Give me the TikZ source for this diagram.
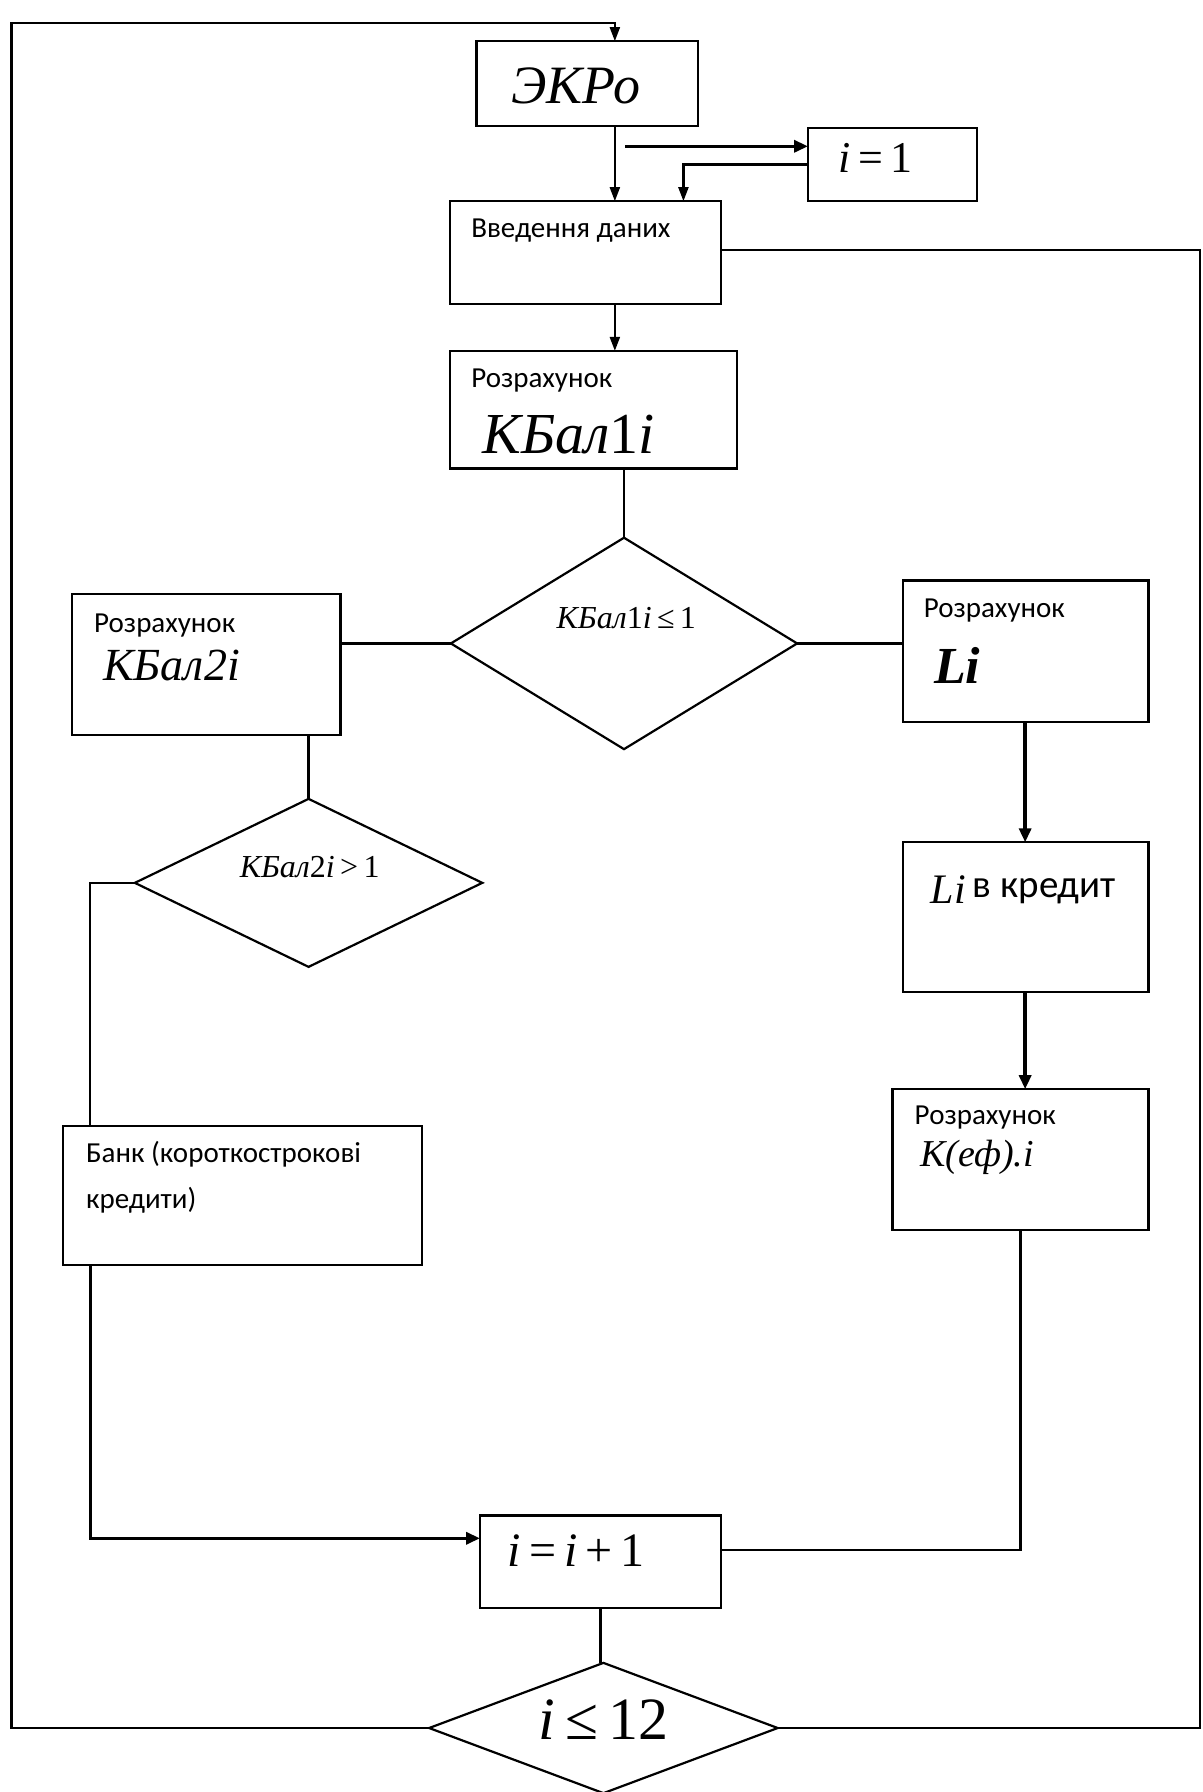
\documentclass[tikz,border=0pt]{standalone}
\usepackage{fontspec}
\setmainfont{Liberation Serif}
\newfontfamily\carl{Carlito}
\usetikzlibrary{shapes.geometric,arrows.meta}
\def\s{0.5713pt}
\begin{document}
\begin{tikzpicture}[x=0.5713pt,y=-0.5713pt,
  box/.style={draw, line width=1.1pt, inner sep=0pt, outer sep=0pt},
  dia/.style={diamond, draw, line width=1.1pt, inner sep=0pt, outer sep=0pt},
  ln/.style={line width=1.1pt},
  arr/.style={line width=1.1pt, -{Triangle[length=7pt,width=5pt]}},
  arrb/.style={line width=1.7pt, -{Triangle[length=7pt,width=6pt]}},
  lbl/.style={inner sep=0pt, anchor=west, font=\carl\fontsize{14.5}{23}\selectfont},
  mth/.style={inner sep=0pt, anchor=west},
]
\useasboundingbox (0,0) rectangle (1052,1568);

% boxes
\node[box, minimum width={194*\s}, minimum height={74*\s}] (ekro) at (514,73) {};
\node[box, minimum width={148*\s}, minimum height={64*\s}] (i1) at (781,144) {};
\node[box, minimum width={237*\s}, minimum height={90*\s}] (vved) at (512.5,221) {};
\node[box, minimum width={251*\s}, minimum height={103*\s}] (kb1) at (519.5,358.5) {};
\node[dia, minimum width={303*\s}, minimum height={185*\s}] (d1) at (546,563) {};
\node[box, minimum width={235*\s}, minimum height={123*\s}] (kb2) at (180.5,581.5) {};
\node[box, minimum width={215*\s}, minimum height={124*\s}] (li) at (897.5,570) {};
\node[dia, minimum width={304*\s}, minimum height={147*\s}] (d2) at (270,772.5) {};
\node[box, minimum width={215*\s}, minimum height={131*\s}] (lcred) at (897.5,802.5) {};
\node[box, minimum width={224*\s}, minimum height={123*\s}] (kef) at (893,1014.5) {};
\node[box, minimum width={314*\s}, minimum height={122*\s}] (bank) at (212,1046) {};
\node[box, minimum width={211*\s}, minimum height={81*\s}] (ii) at (525.5,1366.5) {};
\node[dia, minimum width={305*\s}, minimum height={114*\s}] (d3) at (528,1512) {};

% texts
\node[font=\itshape\fontsize{27}{30}\selectfont, inner sep=0pt] (tekro) at (504,75) {ЭКРо};
\node[font=\fontsize{22}{25}\selectfont, inner sep=0pt] (ti1) at (766,138) {\textit{i}\thinspace=\thinspace1};
\node[lbl] (tvved) at (412,202) {Введення даних};
\node[lbl] (tkb1a) at (412,333) {Розрахунок};
\node[mth, font=\fontsize{29}{32}\selectfont] (tkb1b) at (422,380) {\textit{КБал}1\textit{i}};
\node[font=\fontsize{16}{19}\selectfont, inner sep=0pt] (td1) at (548,541) {\textit{КБал}1\textit{i}\thinspace≤\thinspace1};
\node[lbl] (tkb2a) at (82,547) {Розрахунок};
\node[mth, font=\itshape\fontsize{23}{26}\selectfont] (tkb2b) at (90,582) {КБал2i};
\node[font=\fontsize{16}{19}\selectfont, inner sep=0pt] (td2) at (271,759) {\textit{КБал}2\textit{i}\thinspace>\thinspace1};
\node[lbl] (tlia) at (808,534) {Розрахунок};
\node[mth, font=\bfseries\itshape\fontsize{26}{29}\selectfont] (tlib) at (817,582) {Li};
\node[mth, font=\itshape\fontsize{21}{24}\selectfont] (tlc1) at (814,778) {Li};
\node[mth, font=\carl\fontsize{19.5}{23}\selectfont] (tlc2) at (851,780) {в кредит};
\node[lbl] (tkefa) at (800,978) {Розрахунок};
\node[mth, font=\itshape\fontsize{19}{22}\selectfont] (tkefb) at (805,1013) {К(еф).і};
\node[lbl, anchor=north west, align=left] (tbank) at (75,998) {Банк (короткострокові\\кредити)};
\node[mth, font=\fontsize{24}{27}\selectfont] (tii) at (444,1357) {\textit{i}\thinspace=\thinspace\textit{i}\thinspace+\thinspace1};
\node[font=\fontsize{30}{33}\selectfont, inner sep=0pt] (td3) at (528,1505) {\textit{i}\thinspace≤\thinspace12};

% helper coordinates
\coordinate (xA) at (538,0);
\coordinate (xB) at (598,0);
\coordinate (xL) at (10,0);
\coordinate (xR) at (1050,0);
\coordinate (xC) at (79,0);
\coordinate (xD) at (897,0);
\coordinate (xE) at (893,0);
\coordinate (yTop) at (0,20);
\coordinate (y128) at (0,128);
\coordinate (y219) at (0,219);
\coordinate (y1346) at (0,1346);
\coordinate (y1356) at (0,1356);
\coordinate (s1) at (547,128);

% connectors
\draw[arr] (d3.west) -| (xL |- yTop) -- (xA |- yTop) -- (xA |- ekro.north);
\draw[arr] (xA |- ekro.south) -- (xA |- vved.north);
\draw[arrb] (s1) -- (i1.west |- y128);
\draw[arr] (i1.west) -| (xB |- vved.north);
\draw[ln] (vved.east |- y219) -| (xR |- d3.east) -- (d3.east);
\draw[arr] (xA |- vved.south) -- (xA |- kb1.north);
\draw[ln] (d1.north |- kb1.south) -- (d1.north);
\draw[ln] (d1.west) -- (kb2.east |- d1.west);
\draw[ln] (d1.east) -- (li.west |- d1.east);
\draw[ln] (d2.north |- kb2.south) -- (d2.north);
\draw[ln] (d2.west) -| (xC |- bank.north);
\draw[arrb] (xC |- bank.south) |- (ii.west |- y1346);
\draw[arrb] (xD |- li.south) -- (xD |- lcred.north);
\draw[arrb] (xD |- lcred.south) -- (xD |- kef.north);
\draw[ln] (xE |- kef.south) |- (ii.east |- y1356);
\draw[ln] (ii.south) -- (ii.south |- d3.north);
\end{tikzpicture}
\end{document}
